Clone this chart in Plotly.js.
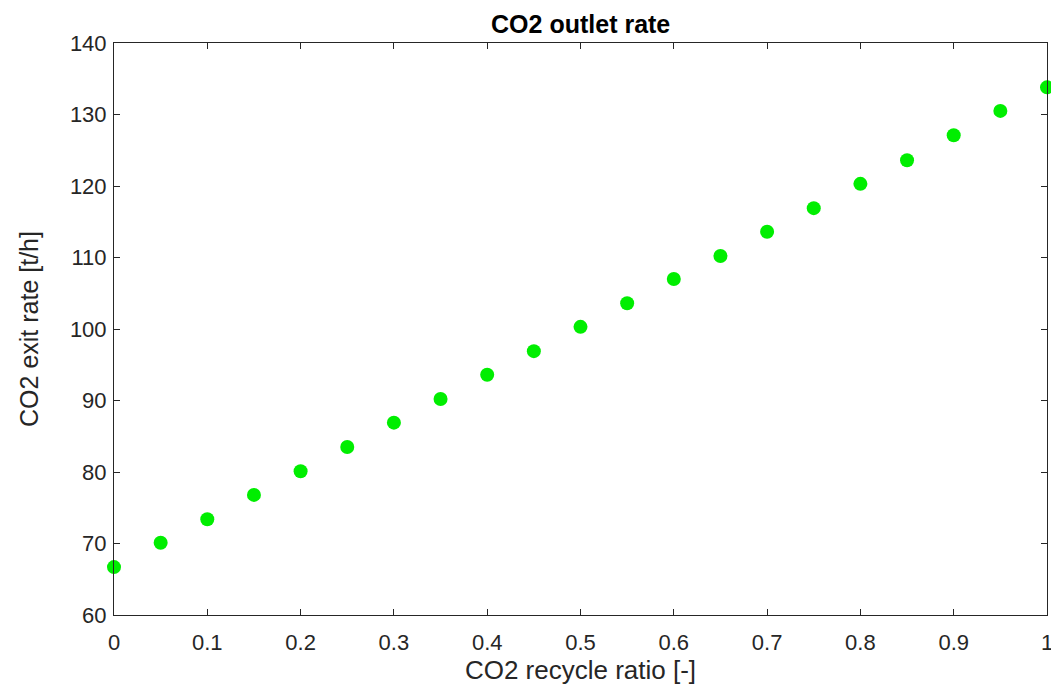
<!DOCTYPE html>
<html>
<head>
<meta charset="utf-8">
<script src="https://cdn.plot.ly/plotly-3.0.1.min.js"></script>
<style>html,body{margin:0;padding:0;background:#fff;}#chart{width:1051px;height:686px;}</style>
</head>
<body>
<div id="chart"></div>
<script>
const recycleRatio = [0, 0.05, 0.1, 0.15, 0.2, 0.25, 0.3, 0.35, 0.4, 0.45, 0.5, 0.55, 0.6, 0.65, 0.7, 0.75, 0.8, 0.85, 0.9, 0.95, 1.0];
const co2ExitRate = [66.7, 70.1, 73.4, 76.8, 80.1, 83.5, 86.9, 90.2, 93.6, 96.9, 100.3, 103.6, 107.0, 110.2, 113.6, 116.9, 120.3, 123.6, 127.1, 130.5, 133.8];
const xTicks = [0, 0.1, 0.2, 0.3, 0.4, 0.5, 0.6, 0.7, 0.8, 0.9, 1];
const xTickLabels = ["0", "0.1", "0.2", "0.3", "0.4", "0.5", "0.6", "0.7", "0.8", "0.9", "1"];
const yTicks = [60, 70, 80, 90, 100, 110, 120, 130, 140];

const font = "Liberation Sans, Arial, Helvetica, sans-serif";
const axisColor = "#262626";

const trace = {
  x: recycleRatio,
  y: co2ExitRate,
  type: "scatter",
  mode: "markers",
  cliponaxis: false,
  marker: {color: "#00ee00", size: 14, line: {width: 0}},
  hoverinfo: "x+y"
};

const axisCommon = {
  showgrid: false,
  zeroline: false,
  showline: true,
  mirror: "allticks",
  linecolor: axisColor,
  linewidth: 1,
  ticks: "inside",
  ticklen: 6,
  tickwidth: 1,
  tickcolor: axisColor,
  ticklabeloverflow: "allow",
  tickfont: {family: font, size: 22, color: axisColor}
};

const layout = {
  width: 1051,
  height: 686,
  margin: {l: 114, r: 4, t: 43, b: 71},
  paper_bgcolor: "#ffffff",
  plot_bgcolor: "#ffffff",
  showlegend: false,
  title: {
    text: "<b>CO2 outlet rate</b>",
    font: {family: font, size: 25, color: "#000000"},
    x: 0.5525, xanchor: "center",
    y: 0.964, yanchor: "middle"
  },
  xaxis: Object.assign({}, axisCommon, {
    range: [0, 1],
    tickvals: xTicks,
    ticktext: xTickLabels,
    ticklabelstandoff: 8,
    title: {text: "CO2 recycle ratio [-]", font: {family: font, size: 26, color: axisColor}, standoff: 6}
  }),
  yaxis: Object.assign({}, axisCommon, {
    range: [60, 140],
    tickvals: yTicks,
    ticklabelstandoff: 2,
    title: {text: "CO2 exit rate [t/h]", font: {family: font, size: 25, color: axisColor}, standoff: 24}
  })
};

Plotly.newPlot("chart", [trace], layout, {displayModeBar: false, staticPlot: true});
</script>
</body>
</html>
